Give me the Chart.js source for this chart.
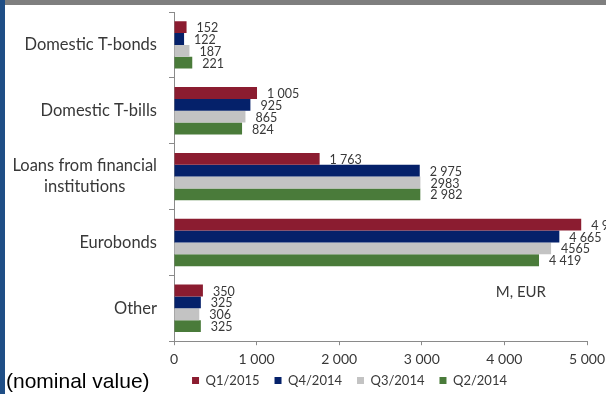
<!DOCTYPE html>
<html>
<head>
<meta charset="utf-8">
<script src="https://cdn.jsdelivr.net/npm/chart.js@4.4.0/dist/chart.umd.min.js"></script>
<style>
  html, body { margin: 0; padding: 0; background: #fff; }
  #wrap { position: relative; width: 606px; height: 394px; overflow: hidden; }
  #topBar { position: absolute; left: 0; top: 0; width: 606px; height: 5px; background: #7f7f7f; }
  #sideBar { position: absolute; left: 0; top: 0; width: 5px; height: 394px; background: #1f4e86; }
  #note { position: absolute; left: 6px; top: 369px; font: 21px "Liberation Sans", Arial, sans-serif; color: #000; line-height: 24px; }
</style>
</head>
<body>
<div id="wrap">
  <canvas id="debtChart"></canvas>
  <div id="topBar"></div>
  <div id="sideBar"></div>
  <div id="note">(nominal value)</div>
</div>
<script>
// debt structure by instrument, M EUR
const categories = ['Domestic T-bonds', 'Domestic T-bills', ['Loans from financial', 'institutions'], 'Eurobonds', 'Other'];
const q1_2015 = [152, 1005, 1763, 4930, 350];
const q4_2014 = [122, 925, 2975, 4665, 325];
const q3_2014 = [187, 865, 2983, 4565, 306];
const q2_2014 = [221, 824, 2982, 4419, 325];
const xMax = 5000;
const xStep = 1000;

const FONT = 'Lato, "Open Sans", sans-serif';
const TEXT = '#383838';

function spaced(v) {
    return String(v).replace(/\B(?=(\d{3})+(?!\d))/g, ' ');
}

// value labels to the right of each bar
const barValues = {
    id: 'barValues',
    afterDatasetsDraw(chart) {
        const ctx = chart.ctx;
        ctx.save();
        ctx.font = '12.5px ' + FONT;
        ctx.fillStyle = TEXT;
        ctx.textAlign = 'left';
        ctx.textBaseline = 'middle';
        chart.data.datasets.forEach((ds, i) => {
            chart.getDatasetMeta(i).data.forEach((bar, j) => {
                const v = ds.data[j];
                ctx.fillText(ds.plainText ? String(v) : spaced(v), bar.x + 10, bar.y + 1);
            });
        });
        ctx.restore();
    }
};

// category names, multi-line ones centred on their widest line
const categoryNames = {
    id: 'categoryNames',
    afterDraw(chart) {
        const ctx = chart.ctx;
        const y = chart.scales.y;
        const right = chart.chartArea.left - 17;
        ctx.save();
        ctx.font = '16.5px ' + FONT;
        ctx.fillStyle = TEXT;
        ctx.textAlign = 'center';
        ctx.textBaseline = 'middle';
        categories.forEach((cat, i) => {
            const lines = [].concat(cat);
            const w = Math.max(...lines.map(l => ctx.measureText(l).width));
            const cx = right - w / 2;
            const yc = y.getPixelForValue(i);
            lines.forEach((l, k) => ctx.fillText(l, cx, yc + (k - (lines.length - 1) / 2) * 21));
        });
        // unit note inside the plot
        ctx.font = '15px ' + FONT;
        ctx.textAlign = 'right';
        ctx.fillText('M, EUR', chart.chartArea.right - 41, 292);
        ctx.restore();
    }
};

// pull the legend row a little closer to the axis labels
const legendLift = {
    id: 'legendLift',
    afterLayout(chart) {
        chart.legend.top -= 15;
    }
};

new Chart(document.getElementById('debtChart'), {
    type: 'bar',
    data: {
        labels: categories,
        datasets: [
            { label: 'Q1/2015', data: q1_2015, backgroundColor: '#8b1c30' },
            { label: 'Q4/2014', data: q4_2014, backgroundColor: '#05216a' },
            { label: 'Q3/2014', data: q3_2014, backgroundColor: '#c3c3c3', plainText: true },
            { label: 'Q2/2014', data: q2_2014, backgroundColor: '#4a7b3a' }
        ]
    },
    options: {
        indexAxis: 'y',
        responsive: true,
        maintainAspectRatio: false,
        animation: false,
        categoryPercentage: 0.72,
        barPercentage: 1,
        layout: { padding: { left: 112, right: 19, top: 12, bottom: 0 } },
        scales: {
            x: {
                min: 0,
                max: xMax,
                // let the last tick label run up to the canvas edge
                afterFit: s => { s.paddingRight = 19; },
                border: { color: '#8a8a8a', width: 1 },
                grid: { drawOnChartArea: false, tickLength: 4, color: '#8a8a8a' },
                ticks: {
                    stepSize: xStep,
                    padding: 6,
                    color: TEXT,
                    font: { family: FONT, size: 14 },
                    callback: v => spaced(v)
                }
            },
            y: {
                afterFit: s => { s.width = 62; },
                border: { color: '#8a8a8a', width: 1 },
                grid: { drawOnChartArea: false, tickLength: 5, color: '#8a8a8a' },
                ticks: { display: false }
            }
        },
        plugins: {
            legend: {
                position: 'bottom',
                maxHeight: 20,
                labels: {
                    boxWidth: 7,
                    boxHeight: 7,
                    padding: 15,
                    color: TEXT,
                    font: { family: FONT, size: 13 }
                }
            },
            tooltip: { enabled: false }
        }
    },
    plugins: [barValues, categoryNames, legendLift]
});
</script>
</body>
</html>
